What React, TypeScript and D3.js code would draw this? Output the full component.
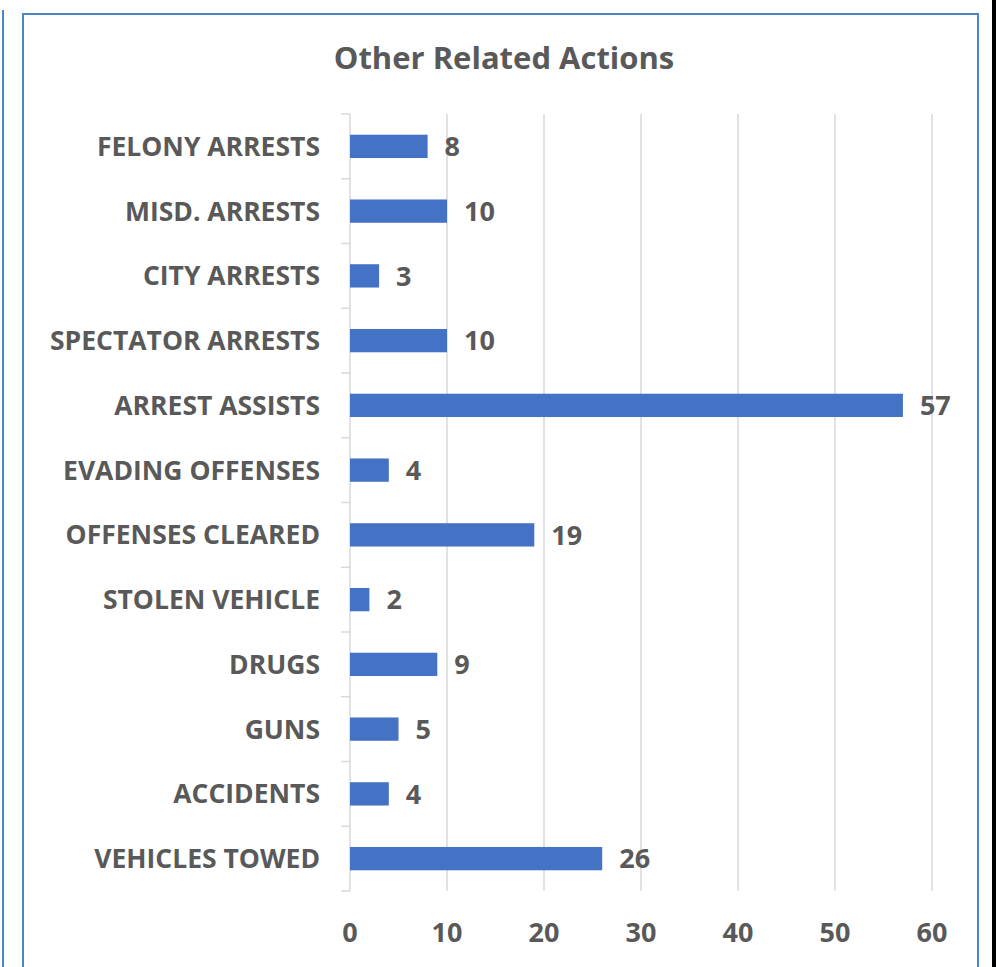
import React, { useRef, useEffect } from 'react';
import * as d3 from 'd3';

const categories = [
  'FELONY ARRESTS',
  'MISD. ARRESTS',
  'CITY ARRESTS',
  'SPECTATOR ARRESTS',
  'ARREST ASSISTS',
  'EVADING OFFENSES',
  'OFFENSES CLEARED',
  'STOLEN VEHICLE',
  'DRUGS',
  'GUNS',
  'ACCIDENTS',
  'VEHICLES TOWED',
];
const counts = [8, 10, 3, 10, 57, 4, 19, 2, 9, 5, 4, 26];
const xTicks = [0, 10, 20, 30, 40, 50, 60];
const title = 'Other Related Actions';

export default function App() {
  const svgRef = useRef<SVGSVGElement>(null);
  const width = 996;
  const height = 967;
  const margin = { top: 114, right: 64, bottom: 76, left: 350 };

  useEffect(() => {
    const svg = d3.select(svgRef.current);
    svg.selectAll('*').remove();

    const font = '"Open Sans", Lato, sans-serif';
    const textColor = '#595959';
    const gridColor = '#d9d9d9';

    svg.append('rect').attr('width', width).attr('height', height).attr('fill', '#fff');

    // neighbouring chart edge + this chart's frame
    svg.append('line')
      .attr('x1', 3).attr('x2', 3).attr('y1', 10).attr('y2', height)
      .attr('stroke', '#4a86c8').attr('stroke-width', 2);
    svg.append('rect')
      .attr('x', 23).attr('y', 14).attr('width', 955).attr('height', height)
      .attr('fill', 'none').attr('stroke', '#4a86c8').attr('stroke-width', 2);
    svg.append('rect')
      .attr('x', 992).attr('y', 0).attr('width', 4).attr('height', height)
      .attr('fill', '#000');

    const x = d3.scaleLinear()
      .domain([0, 60])
      .range([margin.left, width - margin.right]);

    const y = d3.scaleBand()
      .domain(categories)
      .range([margin.top, height - margin.bottom])
      .paddingInner(0.64)
      .paddingOuter(0.32);

    const step = y.step();
    const top = margin.top;
    const bottom = height - margin.bottom;

    // vertical gridlines
    svg.append('g')
      .selectAll('line')
      .data(xTicks.slice(1))
      .join('line')
      .attr('x1', d => x(d))
      .attr('x2', d => x(d))
      .attr('y1', top)
      .attr('y2', bottom)
      .attr('stroke', gridColor)
      .attr('stroke-width', 1.5);

    // category axis with ticks between bands
    svg.append('line')
      .attr('x1', x(0)).attr('x2', x(0))
      .attr('y1', top).attr('y2', bottom)
      .attr('stroke', gridColor).attr('stroke-width', 1.5);
    svg.append('g')
      .selectAll('line')
      .data(d3.range(categories.length + 1))
      .join('line')
      .attr('x1', x(0) - 9)
      .attr('x2', x(0))
      .attr('y1', i => top + i * step)
      .attr('y2', i => top + i * step)
      .attr('stroke', gridColor)
      .attr('stroke-width', 1.5);

    // bars
    svg.append('g')
      .selectAll('rect')
      .data(categories)
      .join('rect')
      .attr('x', x(0))
      .attr('y', d => y(d)!)
      .attr('width', (d, i) => x(counts[i]) - x(0))
      .attr('height', y.bandwidth())
      .attr('fill', '#4472c4');

    // category labels
    svg.append('g')
      .selectAll('text')
      .data(categories)
      .join('text')
      .attr('x', 320)
      .attr('y', d => y(d)! + y.bandwidth() / 2)
      .attr('dy', '0.36em')
      .attr('text-anchor', 'end')
      .attr('fill', textColor)
      .attr('font-size', 26.5)
      .attr('font-weight', 700)
      .attr('font-family', font)
      .text(d => d);

    // value labels
    svg.append('g')
      .selectAll('text')
      .data(categories)
      .join('text')
      .attr('x', (d, i) => x(counts[i]) + 17)
      .attr('y', d => y(d)! + y.bandwidth() / 2)
      .attr('dy', '0.36em')
      .attr('fill', textColor)
      .attr('font-size', 27)
      .attr('font-weight', 700)
      .attr('font-family', font)
      .text((d, i) => counts[i]);

    // x tick labels
    svg.append('g')
      .selectAll('text')
      .data(xTicks)
      .join('text')
      .attr('x', d => x(d))
      .attr('y', 942)
      .attr('text-anchor', 'middle')
      .attr('fill', textColor)
      .attr('font-size', 27)
      .attr('font-weight', 700)
      .attr('font-family', font)
      .text(d => d);

    // title
    svg.append('text')
      .attr('x', 504)
      .attr('y', 69)
      .attr('text-anchor', 'middle')
      .attr('fill', textColor)
      .attr('font-size', 31)
      .attr('font-weight', 700)
      .attr('font-family', font)
      .text(title);
  }, []);

  return (
    <svg
      ref={svgRef}
      width={width}
      height={height}
      style={{ position: 'absolute', left: 0, top: 0, display: 'block' }}
    />
  );
}
